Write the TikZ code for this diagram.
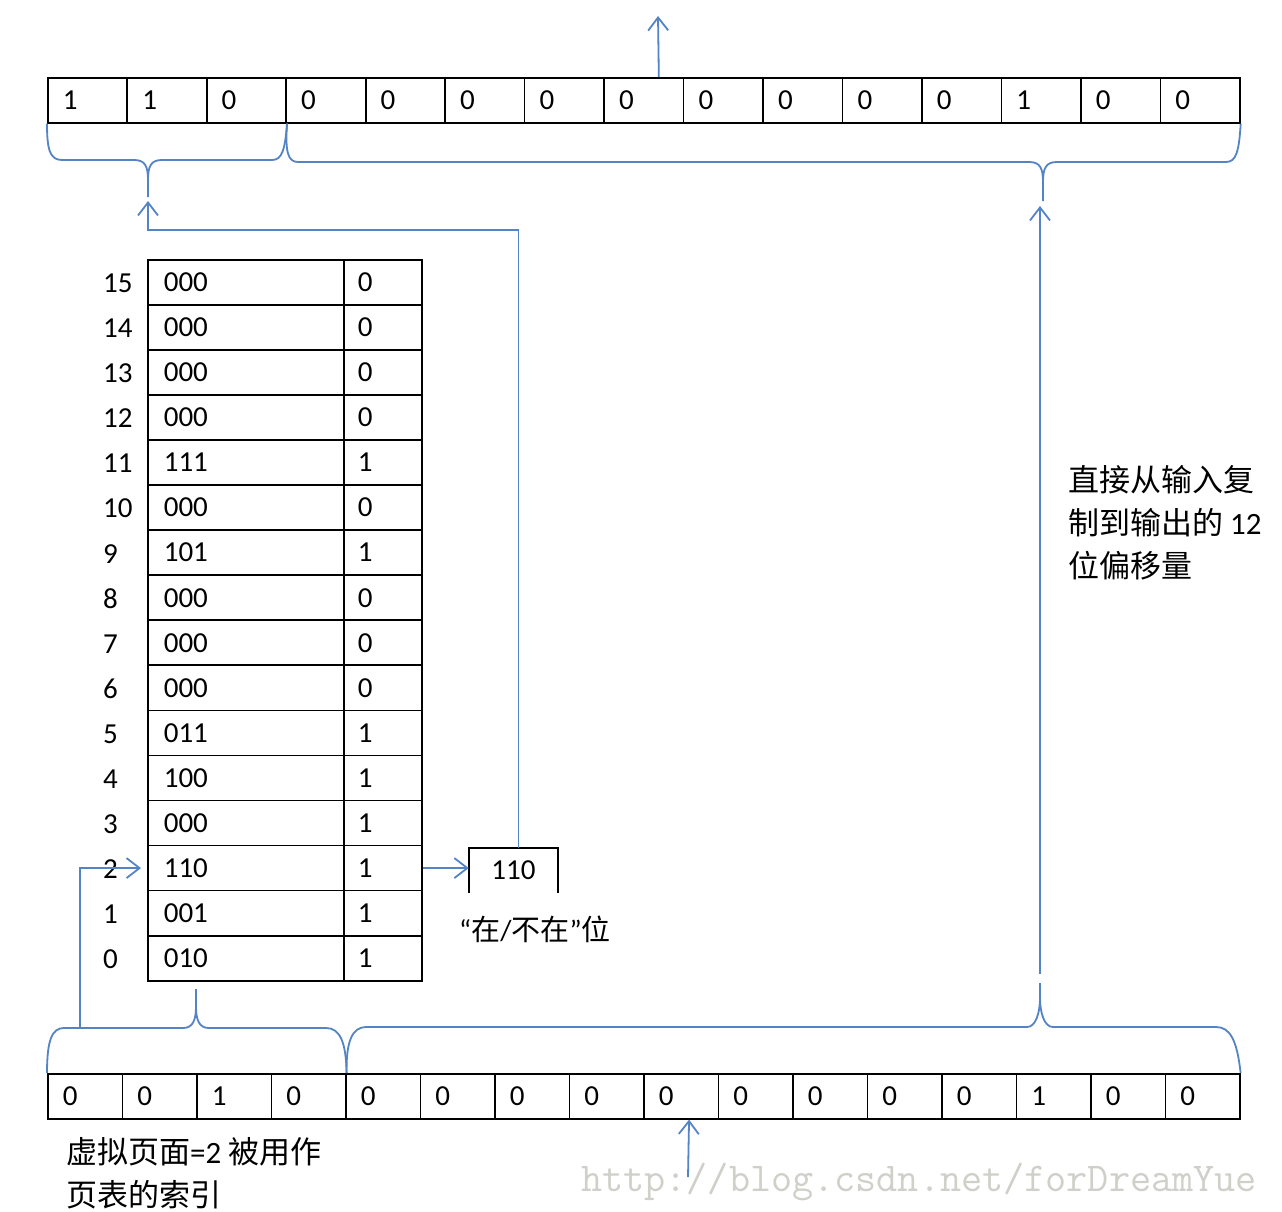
\documentclass[tikz,border=0pt]{standalone}
\usepackage{fontspec}
\setmainfont{Carlito}
\newfontfamily\cjk{Noto Sans CJK SC}
\usetikzlibrary{arrows.meta}
\definecolor{lineblue}{RGB}{84,132,195}
\definecolor{wmgrey}{RGB}{208,208,202}
\begin{document}
\begin{tikzpicture}[x=1pt,y=-1pt,
  font=\fontsize{29}{35}\selectfont,
  bl/.style={draw=lineblue, line width=1.8pt},
  arr/.style={bl, -{Straight Barb[length=13pt,width=20pt,line width=1.8pt]}},
  cellbase/.style={draw=black, line width=1.6pt, minimum height=45pt, align=left, anchor=north west, inner ysep=0pt},
  topcell/.style={cellbase, inner xsep=15pt, text width=49.5pt},
  botcell/.style={cellbase, inner xsep=15pt, text width=44.5pt},
  pagecell/.style={cellbase, inner xsep=16pt, text width=164pt},
  bitcell/.style={cellbase, inner xsep=14pt, text width=50pt},
  rowlabel/.style={anchor=west, inner sep=0pt},
  cjktext/.style={font=\fontsize{31}{43}\selectfont, align=left, inner sep=0pt}
]
\useasboundingbox (0,0) rectangle (1282,1212);
\fill[white] (0,0) rectangle (1282,1212);

% watermark
\node[anchor=west, text=wmgrey, font=\ttfamily\fontsize{41}{41}\selectfont, inner sep=0pt] (wmark) at (581,1182) {http://blog.csdn.net/forDreamYue};

% top (output) row
\foreach \v [count=\i from 0] in {1,1,0,0,0,0,0,0,0,0,0,0,1,0,0} {
  \pgfmathsetmacro\xx{47+\i*79.47}
  \node[topcell] (t\i) at (\xx,77) {\v};
}

% bottom (input) row
\foreach \v [count=\i from 0] in {0,0,1,0,0,0,0,0,0,0,0,0,0,1,0,0} {
  \pgfmathsetmacro\xx{47+\i*74.5}
  \node[botcell] (b\i) at (\xx,1073) {\v};
}

% page table
\foreach \k/\pv/\bv in {15/000/0,14/000/0,13/000/0,12/000/0,11/111/1,10/000/0,9/101/1,8/000/0,7/000/0,6/000/0,5/011/1,4/100/1,3/000/1,2/110/1,1/001/1,0/010/1} {
  \pgfmathsetmacro\yy{259+(15-\k)*45.06}
  \node[pagecell] (p\k) at (147,\yy) {\pv};
  \node[bitcell] (v\k) at (343,\yy) {\bv};
  \node[rowlabel] (n\k) at ([xshift=-44pt,yshift=-1pt]p\k.west) {\k};
}

% 110 box (open at the bottom)
\node[minimum width=89pt, minimum height=45pt, inner sep=0pt] (box) at (513.5,870.5) {110};
\draw[line width=1.6pt] (box.south west) -- (box.north west) -- (box.north east) -- (box.south east);

% texts
\node[anchor=west, inner sep=0pt] (present) at (459,929) {“{\cjk 在}/{\cjk 不在}”{\cjk 位}};
\node[cjktext, anchor=north west] (offset) at (1068,465) {{\cjk 直接从输入复}\\{\cjk 制到输出的} 12\\{\cjk 位偏移量}};
\node[cjktext, anchor=north west] (index) at (66,1137) {{\cjk 虚拟页面}=2 {\cjk 被用作}\\{\cjk 页表的索引}};

% braces on top row
\draw[bl] (t0.south west) .. controls (47,150) and (50,160) .. (62,160) -- (134,160)
  .. controls (145,160) and (148,166) .. (148,180) -- (148,197) -- (148,180)
  .. controls (148,166) and (151,160) .. (162,160) -- (272,160)
  .. controls (282,160) and (285,150) .. (t2.south east);
\draw[bl] (t2.south east) .. controls (285,152) and (288,162) .. (298,162) -- (1029,162)
  .. controls (1040,162) and (1043,168) .. (1043,182) -- (1043,201) -- (1043,182)
  .. controls (1043,168) and (1046,162) .. (1057,162) -- (1226,162)
  .. controls (1236,162) and (1239,152) .. (t14.south east);

% braces on bottom row
\draw[bl] (b0.north west) .. controls (47,1040) and (52,1028) .. (64,1028) -- (183,1028)
  .. controls (193,1028) and (196,1020) .. (196,1006) -- (196,989) -- (196,1006)
  .. controls (196,1020) and (199,1028) .. (209,1028) -- (326,1028)
  .. controls (340,1028) and (346,1042) .. (b3.north east);
\draw[bl] (b3.north east) .. controls (346,1042) and (352,1027) .. (366,1027) -- (1027,1027)
  .. controls (1036,1027) and (1040,1012) .. (1040,998) -- (1040,983) -- (1040,998)
  .. controls (1040,1012) and (1044,1027) .. (1053,1027) -- (1216,1027)
  .. controls (1230,1027) and (1237,1040) .. (b15.north east);

% connectors
\coordinate (topout) at (658,16);
\coordinate (tltip) at (148,201);
\coordinate (tlbend) at (148,230);
\coordinate (rbot) at (1040,974);
\coordinate (rtop) at (1040,206);
\coordinate (lbrace) at (80,1028);
\coordinate (inlow) at (688,1177);

\draw[arr] ([xshift=15pt]t7.north) -- (topout);
\draw[arr] ([xshift=5pt]box.north) |- (tlbend) -- (tltip);
\draw[arr] (rbot) -- (rtop);
\draw[arr, shorten >=6pt] (lbrace) |- (p2.west);
\draw[arr] (v2.east) -- (v2.east -| box.west);
\draw[arr] (inlow) -- ([xshift=8pt]b8.south);
\end{tikzpicture}
\end{document}
